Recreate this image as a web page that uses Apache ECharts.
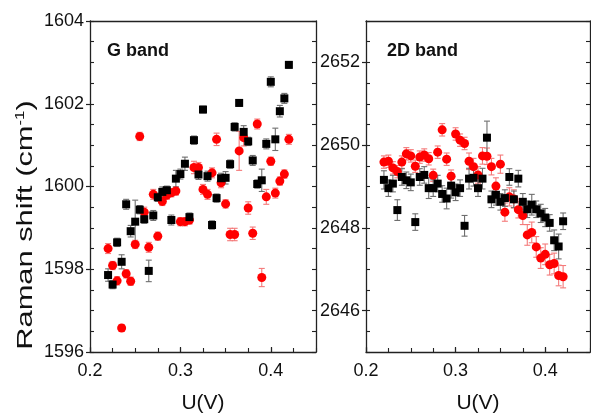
<!DOCTYPE html>
<html>
<head>
<meta charset="utf-8">
<script src="https://cdn.jsdelivr.net/npm/echarts@6/dist/echarts.min.js"></script>
<style>html,body{margin:0;padding:0;background:#fff}#c{width:591px;height:419px}</style>
</head>
<body>
<div id="c"></div>
<script>
// ---- data ----
const U = [0.22,0.225,0.23,0.235,0.24,0.245,0.25,0.255,0.26,0.265,0.27,0.275,0.28,0.285,0.29,0.295,0.30,0.305,0.31,0.315,0.32,0.325,0.33,0.335,0.34,0.345,0.35,0.355,0.36,0.365,0.37,0.375,0.38,0.385,0.39,0.395,0.40,0.405,0.41,0.415,0.42];

const gBlack = [1597.86,1597.63,1598.65,1598.18,1599.57,1598.92,1599.15,1599.44,1599.21,1597.96,1599.30,1599.74,1599.87,1599.91,1599.19,1600.19,1600.30,1600.55,1599.26,1601.12,1600.29,1601.86,1600.25,1599.07,1599.72,1600.20,1600.21,1600.54,1601.44,1602.02,1601.32,1601.09,1600.63,1600.06,1600.15,1601.03,1602.53,1601.14,1601.82,1602.13,1602.94];
const gBlackErr = [0.15,0.1,0.1,0.17,0.12,0.14,0.52,0.1,0.1,0.26,0.12,0.1,0.12,0.1,0.12,0.2,0.12,0.16,0.1,0.1,0.12,0.08,0.12,0.1,0.1,0.12,0.15,0.1,0.1,0.08,0.15,0.1,0.12,0.1,0.27,0.12,0.12,0.27,0.14,0.12,0.08];
const gRed = [1598.50,1598.09,1597.72,1596.58,1597.89,1597.71,1598.60,1601.21,1599.38,1598.53,1599.81,1598.80,1599.64,1599.79,1599.85,1599.89,1599.15,1599.15,1599.19,1600.46,1600.46,1599.93,1599.81,1600.33,1601.14,1600.09,1599.58,1598.84,1598.84,1600.86,1601.18,1599.48,1598.87,1601.51,1597.80,1599.75,1600.61,1599.84,1600.13,1600.30,1601.14];
const gRedErr = [0.12,0.1,0.1,0.08,0.1,0.1,0.1,0.1,0.12,0.12,0.12,0.1,0.1,0.1,0.1,0.1,0.1,0.1,0.1,0.15,0.12,0.12,0.12,0.12,0.15,0.12,0.1,0.15,0.15,0.47,0.2,0.15,0.15,0.12,0.22,0.18,0.1,0.12,0.1,0.1,0.12];

const dBlack = [2649.16,2648.96,2649.07,2648.43,2649.23,2649.15,2649.10,2648.14,2649.23,2649.28,2648.96,2648.96,2649.07,2648.82,2648.71,2649.02,2648.86,2648.96,2648.05,2649.19,2649.21,2648.96,2649.19,2650.18,2648.69,2648.80,2648.63,2648.72,2649.23,2648.69,2649.19,2648.63,2648.45,2648.56,2648.45,2648.35,2648.25,2648.12,2647.70,2647.55,2648.16];
const dBlackErr = [0.22,0.2,0.2,0.25,0.2,0.2,0.2,0.2,0.2,0.2,0.25,0.2,0.2,0.2,0.25,0.3,0.2,0.2,0.25,0.25,0.2,0.2,0.25,0.4,0.2,0.25,0.2,0.2,0.2,0.2,0.2,0.2,0.2,0.25,0.2,0.22,0.22,0.2,0.25,0.3,0.2];
const dRed = [2649.59,2649.61,2649.45,2649.36,2649.59,2649.79,2649.74,2649.49,2649.71,2649.76,2649.67,2649.27,2649.83,2650.37,2649.66,2649.25,2650.27,2650.12,2650.04,2649.61,2649.48,2649.28,2649.74,2649.73,2649.48,2649.01,2649.54,2648.38,2648.75,2648.70,2648.44,2648.30,2647.83,2647.89,2647.54,2647.27,2647.36,2647.11,2647.14,2646.85,2646.82];
const dRedErr = [0.15,0.15,0.15,0.15,0.15,0.15,0.15,0.15,0.15,0.15,0.15,0.15,0.15,0.15,0.15,0.15,0.15,0.15,0.15,0.2,0.2,0.2,0.2,0.2,0.2,0.2,0.22,0.22,0.22,0.22,0.2,0.22,0.25,0.25,0.25,0.25,0.25,0.25,0.25,0.25,0.27];

const xTicks = [0.2, 0.3, 0.4];
const gTicks = [1596, 1598, 1600, 1602, 1604];
const dTicks = [2646, 2648, 2650, 2652];
const xRange = [0.2, 0.45];
const gRange = [1596, 1604];
const dRange = [2645, 2653];
const panelTitles = ['G band', '2D band'];
const xName = 'U(V)';

// ---- chart ----
const FONT = "'Liberation Sans', Arial, sans-serif";
const AX = '#222';
const chart = echarts.init(document.getElementById('c'), null, {renderer: 'canvas'});

function xAxes(gi) {
  return [
    {gridIndex: gi, type: 'value', position: 'bottom', min: xRange[0], max: xRange[1],
     axisLine: {show: true, onZero: false, lineStyle: {color: AX, width: 1.3}},
     axisTick: {show: true, inside: true, length: 5, customValues: xTicks, lineStyle: {color: AX, width: 1.2}},
     axisLabel: {customValues: xTicks, formatter: v => v.toFixed(1), fontSize: 18, color: '#111', margin: 10, fontFamily: FONT},
     splitLine: {show: false},
     name: xName, nameLocation: 'middle', nameGap: 41,
     nameTextStyle: {fontSize: 21, color: '#111', fontFamily: FONT}},
    {gridIndex: gi, type: 'value', position: 'bottom', min: xRange[0], max: xRange[1], interval: 0.025,
     axisLine: {show: false}, axisTick: {show: true, inside: true, length: 4, lineStyle: {color: AX, width: 1.1}},
     axisLabel: {show: false}, splitLine: {show: false}},
    {gridIndex: gi, type: 'value', position: 'top', min: xRange[0], max: xRange[1],
     axisLine: {show: true, onZero: false, lineStyle: {color: AX, width: 1.3}},
     axisTick: {show: false}, axisLabel: {show: false}, splitLine: {show: false}}
  ];
}
function yAxes(gi, range, ticks) {
  return [
    {gridIndex: gi, type: 'value', position: 'left', min: range[0], max: range[1],
     axisLine: {show: true, onZero: false, lineStyle: {color: AX, width: 1.3}},
     axisTick: {show: true, inside: false, length: 4, customValues: ticks, lineStyle: {color: AX, width: 1.2}},
     axisLabel: {customValues: ticks, formatter: v => String(v), fontSize: 18, color: '#111', margin: 6, fontFamily: FONT},
     splitLine: {show: false}},
    {gridIndex: gi, type: 'value', position: 'left', min: range[0], max: range[1], interval: 0.5,
     axisLine: {show: false}, axisTick: {show: true, inside: true, length: 4, lineStyle: {color: AX, width: 1.1}},
     axisLabel: {show: false}, splitLine: {show: false}},
    {gridIndex: gi, type: 'value', position: 'right', min: range[0], max: range[1], interval: 0.5,
     axisLine: {show: true, onZero: false, lineStyle: {color: AX, width: 1.3}},
     axisTick: {show: true, inside: true, length: 4, lineStyle: {color: AX, width: 1.1}},
     axisLabel: {show: false}, splitLine: {show: false}}
  ];
}

function errSeries(ax, ay, vals, errs, color) {
  return {
    type: 'custom', xAxisIndex: ax, yAxisIndex: ay, z: 2, silent: true,
    data: U.map((u, i) => [u, vals[i] - errs[i], vals[i] + errs[i]]),
    encode: {x: 0, y: [1, 2]},
    renderItem: function (params, api) {
      const lo = api.coord([api.value(0), api.value(1)]);
      const hi = api.coord([api.value(0), api.value(2)]);
      const w = 3;
      const st = {stroke: color, lineWidth: 1.1};
      return {type: 'group', children: [
        {type: 'line', shape: {x1: lo[0], y1: lo[1], x2: hi[0], y2: hi[1]}, style: st},
        {type: 'line', shape: {x1: lo[0] - w, y1: lo[1], x2: lo[0] + w, y2: lo[1]}, style: st},
        {type: 'line', shape: {x1: hi[0] - w, y1: hi[1], x2: hi[0] + w, y2: hi[1]}, style: st}
      ]};
    }
  };
}
function ptSeries(ax, ay, vals, symbol, size, color, z) {
  return {type: 'scatter', xAxisIndex: ax, yAxisIndex: ay, z: z, symbol: symbol, symbolSize: size,
    itemStyle: {color: color, opacity: 1}, data: U.map((u, i) => [u, vals[i]]), silent: true};
}

const option = {
  animation: false,
  backgroundColor: '#fff',
  grid: [
    {left: 90, top: 21, width: 226, height: 341},
    {left: 366, top: 21, width: 224, height: 340}
  ],
  xAxis: [...xAxes(0), ...xAxes(1)],
  yAxis: [...yAxes(0, gRange, gTicks), ...yAxes(1, dRange, dTicks)],
  series: [
    errSeries(0, 0, gRed, gRedErr, '#f47a7a'),
    errSeries(0, 0, gBlack, gBlackErr, '#6e6e6e'),
    ptSeries(0, 0, gRed, 'circle', 9, '#ff0000', 3),
    ptSeries(0, 0, gBlack, 'rect', 8, '#000000', 4),
    errSeries(3, 3, dRed, dRedErr, '#f47a7a'),
    errSeries(3, 3, dBlack, dBlackErr, '#6e6e6e'),
    ptSeries(3, 3, dRed, 'circle', 9, '#ff0000', 3),
    ptSeries(3, 3, dBlack, 'rect', 8, '#000000', 4)
  ],
  graphic: [
    {type: 'text', left: 107, top: 42, style: {text: panelTitles[0], font: "bold 18px " + FONT, fill: '#111'}},
    {type: 'text', left: 387, top: 42, style: {text: panelTitles[1], font: "bold 18px " + FONT, fill: '#111'}},
    {type: 'text', x: 26, y: 225, rotation: Math.PI / 2, scaleX: 1.4, scaleY: 1,
     style: {text: '{a|Raman shift (cm}{s|-1}{a|)}', align: 'center', verticalAlign: 'middle',
       rich: {a: {fontSize: 22, fontFamily: FONT, fill: '#111', color: '#111'},
              s: {fontSize: 12, fontFamily: FONT, fill: '#111', color: '#111', verticalAlign: 'top', padding: [0, 0, 9, 0]}}}}
  ]
};
chart.setOption(option);
</script>
</body>
</html>
